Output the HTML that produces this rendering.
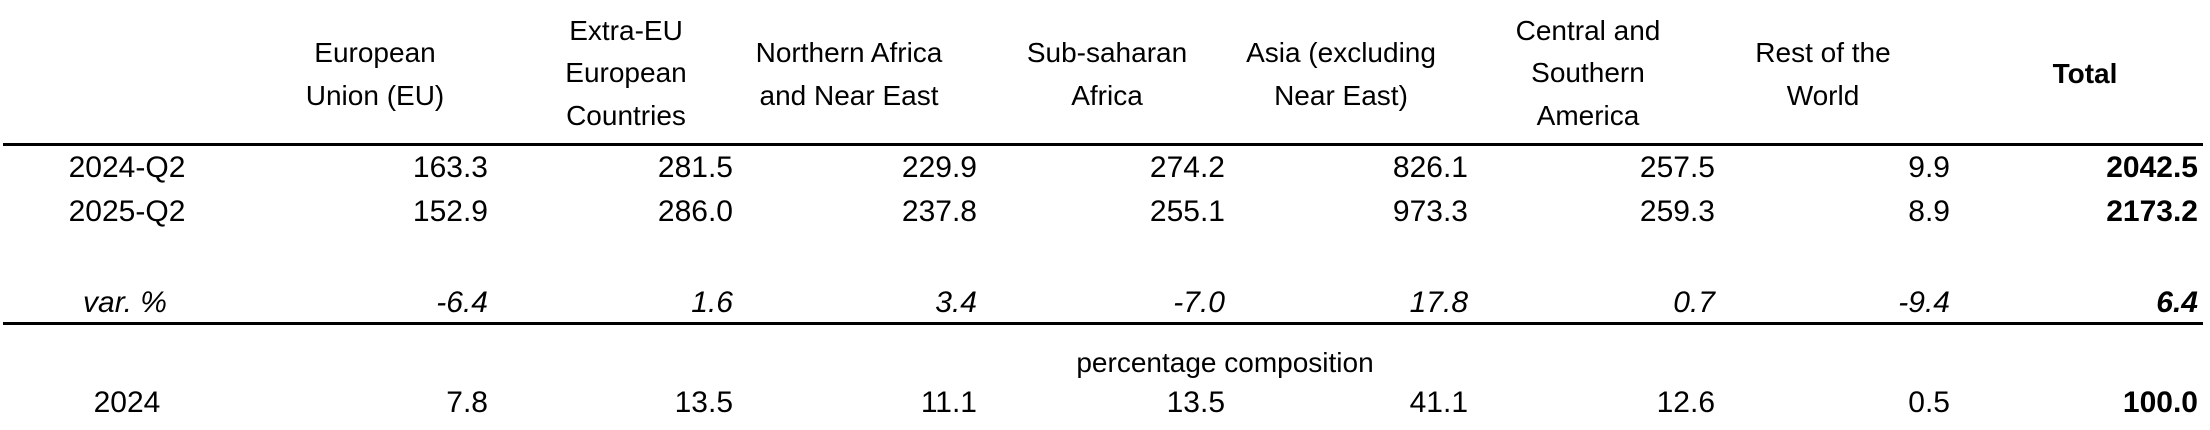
<!DOCTYPE html>
<html><head><meta charset="utf-8"><style>
html,body{margin:0;padding:0;background:#fff;}
body{width:2210px;height:430px;position:relative;overflow:hidden;font-family:"Liberation Sans",Arial,sans-serif;font-size:30px;color:#000;}
.t{position:absolute;line-height:34px;white-space:nowrap;}
.h{font-size:28px;}
.c{text-align:center;transform:translateX(-50%);}
.r{text-align:right;transform:translateX(-100%);}
.b{font-weight:bold;}
.i{font-style:italic;}
.rule{position:absolute;left:3px;width:2200px;height:3px;background:#000;}
</style></head><body>
<div class="t c h" style="left:375px;top:36px">European</div>
<div class="t c h" style="left:375px;top:79px">Union (EU)</div>
<div class="t c h" style="left:626px;top:14px">Extra-EU</div>
<div class="t c h" style="left:626px;top:56px">European</div>
<div class="t c h" style="left:626px;top:99px">Countries</div>
<div class="t c h" style="left:849px;top:36px">Northern Africa</div>
<div class="t c h" style="left:849px;top:79px">and Near East</div>
<div class="t c h" style="left:1107px;top:36px">Sub-saharan</div>
<div class="t c h" style="left:1107px;top:79px">Africa</div>
<div class="t c h" style="left:1341px;top:36px">Asia (excluding</div>
<div class="t c h" style="left:1341px;top:79px">Near East)</div>
<div class="t c h" style="left:1588px;top:14px">Central and</div>
<div class="t c h" style="left:1588px;top:56px">Southern</div>
<div class="t c h" style="left:1588px;top:99px">America</div>
<div class="t c h" style="left:1823px;top:36px">Rest of the</div>
<div class="t c h" style="left:1823px;top:79px">World</div>
<div class="t c b h" style="left:2085px;top:57px">Total</div>
<div class="rule" style="top:143px"></div>

<div class="t c" style="left:127px;top:151px">2024-Q2</div>
<div class="t r" style="left:488px;top:151px">163.3</div>
<div class="t r" style="left:733px;top:151px">281.5</div>
<div class="t r" style="left:977px;top:151px">229.9</div>
<div class="t r" style="left:1225px;top:151px">274.2</div>
<div class="t r" style="left:1468px;top:151px">826.1</div>
<div class="t r" style="left:1715px;top:151px">257.5</div>
<div class="t r" style="left:1950px;top:151px">9.9</div>
<div class="t r b" style="left:2198px;top:151px">2042.5</div>

<div class="t c" style="left:127px;top:195px">2025-Q2</div>
<div class="t r" style="left:488px;top:195px">152.9</div>
<div class="t r" style="left:733px;top:195px">286.0</div>
<div class="t r" style="left:977px;top:195px">237.8</div>
<div class="t r" style="left:1225px;top:195px">255.1</div>
<div class="t r" style="left:1468px;top:195px">973.3</div>
<div class="t r" style="left:1715px;top:195px">259.3</div>
<div class="t r" style="left:1950px;top:195px">8.9</div>
<div class="t r b" style="left:2198px;top:195px">2173.2</div>

<div class="t c i" style="left:125px;top:286px">var. %</div>
<div class="t r i" style="left:488px;top:286px">-6.4</div>
<div class="t r i" style="left:733px;top:286px">1.6</div>
<div class="t r i" style="left:977px;top:286px">3.4</div>
<div class="t r i" style="left:1225px;top:286px">-7.0</div>
<div class="t r i" style="left:1468px;top:286px">17.8</div>
<div class="t r i" style="left:1715px;top:286px">0.7</div>
<div class="t r i" style="left:1950px;top:286px">-9.4</div>
<div class="t r i b" style="left:2198px;top:286px">6.4</div>
<div class="rule" style="top:322px"></div>

<div class="t c h" style="left:1225px;top:346px">percentage composition</div>

<div class="t c" style="left:127px;top:386px">2024</div>
<div class="t r" style="left:488px;top:386px">7.8</div>
<div class="t r" style="left:733px;top:386px">13.5</div>
<div class="t r" style="left:977px;top:386px">11.1</div>
<div class="t r" style="left:1225px;top:386px">13.5</div>
<div class="t r" style="left:1468px;top:386px">41.1</div>
<div class="t r" style="left:1715px;top:386px">12.6</div>
<div class="t r" style="left:1950px;top:386px">0.5</div>
<div class="t r b" style="left:2198px;top:386px">100.0</div>
</body></html>
